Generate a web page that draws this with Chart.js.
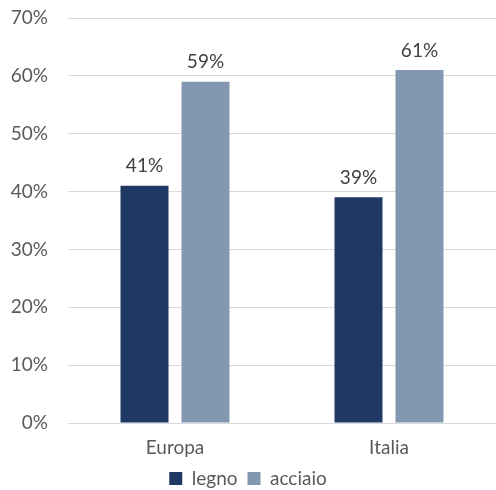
<!DOCTYPE html>
<html>
<head>
<meta charset="utf-8">
<script src="https://cdn.jsdelivr.net/npm/chart.js@4/dist/chart.umd.min.js"></script>
<style>
  html, body { margin: 0; padding: 0; background: #fff; }
  #wrap { width: 496px; height: 490px; }
</style>
</head>
<body>
<div id="wrap"><canvas id="chart"></canvas></div>
<script>
// categories and series
const categories = ['Europa', 'Italia'];
const legno = [41, 39];
const acciaio = [59, 61];
const yTicks = [0, 10, 20, 30, 40, 50, 60, 70];

const FONT = 'Lato, "Open Sans", sans-serif';
const TEXT = '#595959';

// percent labels above each bar
const valueLabels = {
    id: 'valueLabels',
    afterDatasetsDraw(chart) {
        const ctx = chart.ctx;
        ctx.save();
        ctx.font = '19px ' + FONT;
        ctx.fillStyle = '#404040';
        ctx.textAlign = 'center';
        ctx.textBaseline = 'bottom';
        chart.data.datasets.forEach((ds, i) => {
            chart.getDatasetMeta(i).data.forEach((bar, j) => {
                ctx.fillText(ds.data[j] + '%', bar.x, bar.y - 10);
            });
        });
        ctx.restore();
    }
};

new Chart(document.getElementById('chart'), {
    type: 'bar',
    data: {
        labels: categories,
        datasets: [
            { label: 'legno', data: legno, backgroundColor: '#203864' },
            { label: 'acciaio', data: acciaio, backgroundColor: '#8497B0' }
        ]
    },
    options: {
        responsive: true,
        maintainAspectRatio: false,
        animation: false,
        categoryPercentage: 0.57,
        barPercentage: 0.787,
        layout: { padding: { top: 18, right: 0, left: 0, bottom: 0 } },
        plugins: {
            legend: {
                position: 'bottom',
                maxHeight: 31,
                labels: {
                    font: { family: FONT, size: 19 },
                    color: TEXT,
                    boxWidth: 13,
                    boxHeight: 13,
                    padding: 10
                }
            },
            tooltip: { enabled: false }
        },
        scales: {
            x: {
                afterFit(scale) { scale.height = 36; },
                grid: { display: false },
                border: { color: '#d9d9d9' },
                ticks: { font: { family: FONT, size: 19 }, color: TEXT, padding: 5 }
            },
            y: {
                min: 0,
                max: 70,
                afterFit(scale) {
                    scale.width = 68;
                    scale.paddingTop = 0;
                    scale.paddingBottom = 0;
                },
                afterBuildTicks(scale) { scale.ticks = yTicks.map(v => ({ value: v })); },
                grid: { color: '#d9d9d9', drawTicks: false },
                border: { display: false },
                ticks: {
                    font: { family: FONT, size: 19 },
                    color: TEXT,
                    padding: 20,
                    callback: v => v + '%'
                }
            }
        }
    },
    plugins: [valueLabels]
});
</script>
</body>
</html>
